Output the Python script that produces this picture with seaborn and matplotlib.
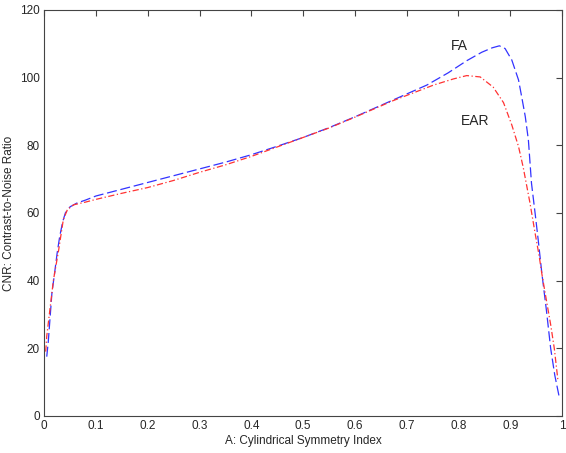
import numpy as np
import pandas as pd
import matplotlib
matplotlib.use("Agg")
import matplotlib.pyplot as plt
import seaborn as sns

# Cylindrical symmetry index (A) sample points and CNR values for each measure
fa_x = [0.005, 0.008, 0.015, 0.02, 0.025, 0.03, 0.036, 0.041, 0.05, 0.063, 0.08,
        0.1, 0.15, 0.2, 0.25, 0.3, 0.35, 0.4, 0.45, 0.5, 0.55, 0.6, 0.674,
        0.739, 0.78, 0.816, 0.845, 0.865, 0.879, 0.89, 0.903, 0.916, 0.922,
        0.929, 0.935, 0.941, 0.948, 0.954, 0.961, 0.97, 0.978, 0.986, 0.994]
fa_cnr = [17.5, 22, 36.3, 42, 48, 53, 57.5, 60, 61.8, 62.9, 63.8,
          65, 67, 69, 71, 73, 75, 77.2, 79.7, 82.3, 85.2, 88.4, 93.4,
          97.8, 101.4, 105, 107.5, 108.8, 109.4, 108.6, 105.2, 99.3, 94.4,
          88.5, 81.6, 68.8, 59.9, 52, 42.2, 31, 20, 12, 6]

ear_x = [0.003, 0.005, 0.01, 0.018, 0.028, 0.037, 0.045, 0.057, 0.08, 0.1,
         0.15, 0.2, 0.25, 0.3, 0.35, 0.4, 0.45, 0.5, 0.55, 0.6, 0.674, 0.752,
         0.79, 0.816, 0.842, 0.867, 0.887, 0.903, 0.916, 0.925, 0.938, 0.948,
         0.956, 0.961, 0.97, 0.978, 0.985, 0.992]
ear_cnr = [19, 23.5, 30, 40.2, 49, 58, 61, 62.4, 63.2, 64,
           65.8, 67.5, 69.6, 72, 74.2, 76.7, 79.5, 82.3, 85.1, 88.3, 93.2, 97.8,
           99.6, 100.6, 100.2, 97.2, 92.6, 86, 79.6, 73.5, 63, 54,
           47.1, 42, 34, 27, 20, 10.6]

x_ticks = [0, 0.1, 0.2, 0.3, 0.4, 0.5, 0.6, 0.7, 0.8, 0.9, 1]
x_tick_labels = ["0", "0.1", "0.2", "0.3", "0.4", "0.5", "0.6", "0.7", "0.8", "0.9", "1"]
y_ticks = [0, 20, 40, 60, 80, 100, 120]

df = pd.concat([
    pd.DataFrame({"A": fa_x, "CNR": fa_cnr, "measure": "FA"}),
    pd.DataFrame({"A": ear_x, "CNR": ear_cnr, "measure": "EAR"}),
], ignore_index=True)

sns.set_style("white")
plt.rcParams["font.family"] = ["Liberation Sans", "DejaVu Sans"]

fig = plt.figure(figsize=(5.66, 4.53), dpi=100)
ax = fig.add_axes([0.078, 0.082, 0.915, 0.896])

sns.lineplot(data=df, x="A", y="CNR", hue="measure", style="measure",
             palette={"FA": "#3333ff", "EAR": "#ff3333"},
             dashes={"FA": (8, 3), "EAR": (5, 2, 1, 2)},
             estimator=None, sort=True, linewidth=0.9, legend=False, ax=ax)

ax.set_xlim(0, 1)
ax.set_ylim(0, 120)
ax.set_xticks(x_ticks)
ax.set_xticklabels(x_tick_labels)
ax.set_yticks(y_ticks)
ax.tick_params(direction="in", length=4, width=0.8, color="#444444",
               labelsize=8.5, top=True, right=True, pad=3)
for s in ax.spines.values():
    s.set_color("#444444")
    s.set_linewidth(0.8)

ax.set_xlabel("A: Cylindrical Symmetry Index", fontsize=8.5, labelpad=2)
ax.set_ylabel("CNR: Contrast-to-Noise Ratio", fontsize=8.5, labelpad=4)

ax.text(0.785, 109.2, "FA", fontsize=10, ha="left", va="center")
ax.text(0.805, 87.3, "EAR", fontsize=10, ha="left", va="center")

fig.savefig("out.png", dpi=100)
